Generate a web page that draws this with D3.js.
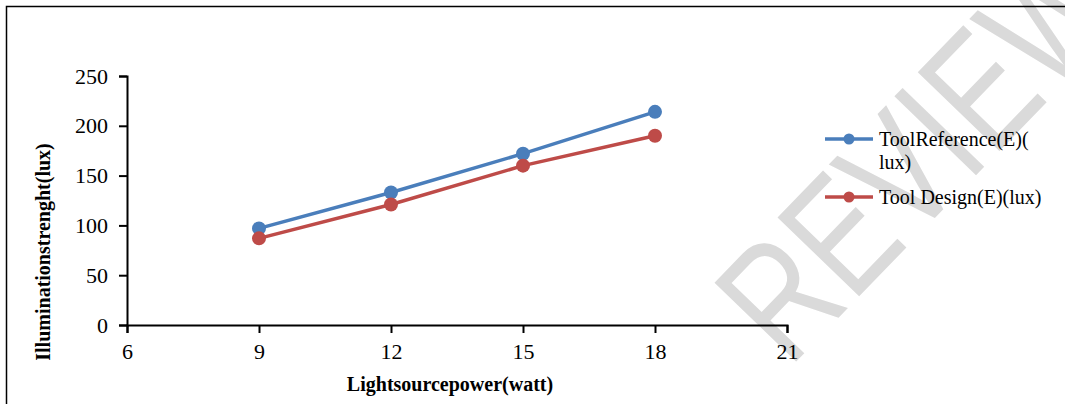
<!DOCTYPE html>
<html>
<head>
<meta charset="utf-8">
<script src="https://cdn.jsdelivr.net/npm/d3@7/dist/d3.min.js"></script>
<style>
  html, body { margin: 0; padding: 0; background: #fff; }
  svg { display: block; }
  .serif { font-family: "Liberation Serif", "Times New Roman", "DejaVu Serif", serif; }
</style>
</head>
<body>
<svg id="chart" width="1065" height="404"></svg>
<script>
// ---- data ----
const xValues = [9, 12, 15, 18];
const toolReference = [97, 133, 172, 214];
const toolDesign = [87, 121, 160, 190];
const seriesNames = ["ToolReference(E)(", "Tool Design(E)(lux)"];
const xTicks = [6, 9, 12, 15, 18, 21];
const yTicks = [0, 50, 100, 150, 200, 250];
const xTitle = "Lightsourcepower(watt)";
const yTitle = "Illuminationstrenght(lux)";
const watermark = "REVIEW";

const series = [
  { name: seriesNames[0], values: toolReference, color: "#4a7ebb" },
  { name: seriesNames[1], values: toolDesign, color: "#be4b48" }
];

const svg = d3.select("#chart");

// watermark
svg.append("text")
  .attr("transform", "translate(789,369) rotate(-46) scale(0.76,1)")
  .style("font-family", "'Liberation Sans', Arial, sans-serif")
  .attr("font-size", 165)
  .attr("fill", "#dadada")
  .text(watermark);

// border
svg.append("rect")
  .attr("x", 6.5).attr("y", 6.5)
  .attr("width", 1080).attr("height", 420)
  .attr("fill", "none").attr("stroke", "#000").attr("stroke-width", 1.5);

const x = d3.scaleLinear().domain([6, 21]).range([127, 787]);
const y = d3.scaleLinear().domain([0, 250]).range([325, 76]);

// y axis
const yAxis = svg.append("g")
  .attr("transform", `translate(${x(6)},0)`)
  .call(d3.axisLeft(y).tickValues(yTicks).tickSize(8).tickPadding(11));
yAxis.attr("font-family", null);
yAxis.select(".domain").attr("stroke-width", 2);
yAxis.selectAll(".tick line").attr("stroke-width", 2);
yAxis.selectAll("text").attr("class", "serif").attr("font-size", 22).attr("fill", "#000");

// x axis
const xAxis = svg.append("g")
  .attr("transform", `translate(0,${y(0)})`)
  .call(d3.axisBottom(x).tickValues(xTicks).tickSize(8).tickPadding(10));
xAxis.attr("font-family", null);
xAxis.select(".domain").attr("stroke-width", 2);
xAxis.selectAll(".tick line").attr("stroke-width", 2);
xAxis.selectAll("text").attr("class", "serif").attr("font-size", 22).attr("fill", "#000");

// axis titles
svg.append("text")
  .attr("class", "serif")
  .attr("x", 450).attr("y", 391)
  .attr("text-anchor", "middle")
  .attr("font-weight", "bold").attr("font-size", 20)
  .text(xTitle);

svg.append("text")
  .attr("class", "serif")
  .attr("transform", "translate(50,252) rotate(-90)")
  .attr("text-anchor", "middle")
  .attr("font-weight", "bold").attr("font-size", 20)
  .text(yTitle);

// lines + markers
const line = d3.line().x((d, i) => x(xValues[i])).y(d => y(d));
series.forEach(s => {
  svg.append("path")
    .datum(s.values)
    .attr("d", line)
    .attr("fill", "none")
    .attr("stroke", s.color)
    .attr("stroke-width", 3.5)
    .attr("stroke-linejoin", "round");
  svg.selectAll(null)
    .data(s.values)
    .enter().append("circle")
    .attr("cx", (d, i) => x(xValues[i]))
    .attr("cy", d => y(d))
    .attr("r", 7)
    .attr("fill", s.color);
});

// legend
const legendY = [139, 197];
series.forEach((s, i) => {
  const g = svg.append("g");
  g.append("line")
    .attr("x1", 825).attr("x2", 873)
    .attr("y1", legendY[i]).attr("y2", legendY[i])
    .attr("stroke", s.color).attr("stroke-width", 3.5);
  g.append("circle")
    .attr("cx", 849).attr("cy", legendY[i]).attr("r", 5.5)
    .attr("fill", s.color);
  g.append("text")
    .attr("class", "serif")
    .attr("x", 879).attr("y", legendY[i] + 7)
    .attr("font-size", 20).attr("fill", "#000")
    .text(s.name);
});
svg.append("text")
  .attr("class", "serif")
  .attr("x", 879).attr("y", 169)
  .attr("font-size", 20).attr("fill", "#000")
  .text("lux)");
</script>
</body>
</html>
